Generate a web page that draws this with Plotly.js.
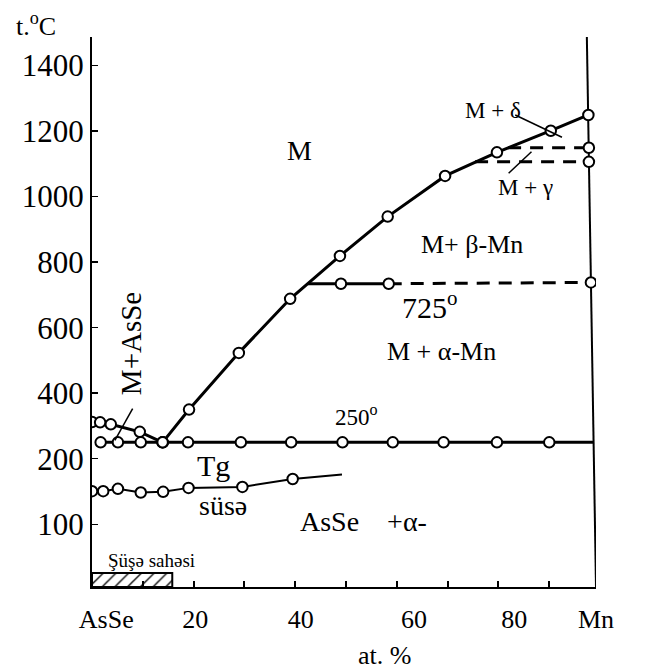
<!DOCTYPE html>
<html>
<head>
<meta charset="utf-8">
<script src="https://cdn.plot.ly/plotly-3.0.1.min.js"></script>
<style>html,body{margin:0;padding:0;background:#fff;}#chart{width:664px;height:669px;}</style>
</head>
<body>
<div id="chart"></div>
<script>
// ---- data (at.% Mn, temperature °C) ----
const liquidusX = [13.9, 19.1, 28.9, 39.0, 48.8, 58.2, 69.5, 79.7, 90.3, 97.7];
const liquidusY = [250, 350, 523, 688, 819, 939, 1063, 1135, 1201, 1249];

const asseLiqX = [0, 1.6, 3.7, 9.4, 13.9];
const asseLiqY = [312, 311, 305, 282, 250];

const eutX = [1.7, 5.1, 9.6, 13.9, 18.9, 29.3, 39.2, 49.3, 59.2, 69.2, 79.7, 90.0, 98.7];
const eutY = [250, 250, 250, 250, 250, 250, 250, 250, 250, 250, 250, 250, 250];

const t725SolidX = [42.5, 49.0, 58.4];
const t725SolidY = [734, 734, 734];
const t725DashX = [58.4, 98.2];
const t725DashY = [734, 738];

const t1140X = [81.9, 97.8];
const t1140Y = [1149, 1149];
const t1100X = [75.4, 97.8];
const t1100Y = [1106, 1106];

const tgX = [0, 2.2, 5.1, 9.6, 14.0, 19.0, 29.6, 39.5, 49.2];
const tgY = [101, 101, 108, 97, 99, 111, 114, 138, 152];

const glassX = [0, 15.8, 15.8, 0, 0];
const glassY = [-191.5, -191.5, -148.7, -148.7, -191.5];

const yTickVals = [0, 200, 400, 600, 800, 1000, 1200, 1400];
const yTickText = ['100', '200', '400', '600', '800', '1000', '1200', '1400'];
const xMinorTicks = [10, 20, 30, 40, 50, 60, 70, 80, 90];
const xLabelPos = [2.8, 20.3, 41.1, 63.4, 83.1, 99.2];
const xLabelText = ['AsSe', '20', '40', '60', '80', 'Mn'];

const XR = [0, 99.2];
const YR = [-191.5, 1487];

const FONT = '"Liberation Serif", Tinos, "Times New Roman", Times, serif';
const mk = {symbol: 'circle', size: 10.5, color: 'white', opacity: 1, line: {color: 'black', width: 2}};
function sizes(n, skip) { const a = []; for (let i = 0; i < n; i++) a.push(skip.indexOf(i) >= 0 ? 0 : 10.5); return a; }

const traces = [
  {x: glassX, y: glassY, mode: 'lines', fill: 'toself', fillcolor: 'white',
   fillpattern: {shape: '/', fgcolor: 'black', bgcolor: 'white', size: 9, solidity: 0.15},
   line: {color: 'black', width: 2}, hoverinfo: 'skip'},
  {x: tgX, y: tgY, mode: 'lines+markers', line: {color: 'black', width: 2},
   marker: Object.assign({}, mk, {size: sizes(tgX.length, [tgX.length - 1])})},
  {x: eutX, y: eutY, mode: 'lines+markers', line: {color: 'black', width: 3},
   marker: Object.assign({}, mk, {size: sizes(eutX.length, [eutX.length - 1])})},
  {x: asseLiqX, y: asseLiqY, mode: 'lines+markers', line: {color: 'black', width: 3}, marker: mk},
  {x: t725DashX, y: t725DashY, mode: 'lines+markers', line: {color: 'black', width: 3, dash: '13px,9px'},
   marker: Object.assign({}, mk, {size: [0, 10.5]})},
  {x: t725SolidX, y: t725SolidY, mode: 'lines+markers', line: {color: 'black', width: 3},
   marker: Object.assign({}, mk, {size: [0, 10.5, 10.5]})},
  {x: t1140X, y: t1140Y, mode: 'lines+markers', line: {color: 'black', width: 3, dash: '13px,9px'},
   marker: Object.assign({}, mk, {size: [0, 10.5]})},
  {x: t1100X, y: t1100Y, mode: 'lines+markers', line: {color: 'black', width: 3, dash: '13px,9px'},
   marker: Object.assign({}, mk, {size: [0, 10.5]})},
  {x: liquidusX, y: liquidusY, mode: 'lines+markers', line: {color: 'black', width: 3}, marker: mk},
  {x: [null], y: [null], xaxis: 'x2', mode: 'markers', showlegend: false, hoverinfo: 'skip'}
];

function ann(text, x, y, size, extra) {
  return Object.assign({text: text, x: x, y: y, xref: 'x', yref: 'y', showarrow: false,
    xanchor: 'center', yanchor: 'middle',
    font: {family: FONT, size: size, color: 'black'}}, extra || {});
}

const annotations = [
  ann('M', 40.9, 1142, 28),
  ann('M + δ', 78.9, 1262, 23),
  ann('M + γ', 85.4, 1028, 23),
  ann('1246<sup>o</sup>', 100.0, 1255, 23, {xanchor: 'left'}),
  ann('1140<sup>o</sup>', 101.1, 1152, 23, {xanchor: 'left'}),
  ann('1100<sup>o</sup>', 100.2, 1104, 23, {xanchor: 'left'}),
  ann('M+ β-Mn', 74.7, 855, 26),
  ann('725<sup>o</sup>', 66.5, 669, 30),
  ann('727<sup>o</sup>', 101.0, 730, 23, {xanchor: 'left'}),
  ann('M + α-Mn', 68.8, 528, 26),
  ann('250<sup>o</sup>', 52.1, 333, 23),
  ann('Tg', 23.9, 180, 30),
  ann('süsə', 25.8, 58, 28),
  ann('AsSe&nbsp;&nbsp;&nbsp;&nbsp;+α-', 40.6, 9, 28, {xanchor: 'left'}),
  ann('M+AsSe', 7.7, 550, 29, {textangle: -90}),
  ann('Şüşə sahəsi', 11.8, -110, 19),
  {text: 't.<sup>o</sup>C', xref: 'paper', yref: 'paper', x: -0.111, y: 1.022, showarrow: false,
   xanchor: 'center', yanchor: 'middle', font: {family: FONT, size: 26, color: 'black'}},
  {text: 'at. %', xref: 'paper', yref: 'paper', x: 0.58, y: -0.125, showarrow: false,
   xanchor: 'center', yanchor: 'middle', font: {family: FONT, size: 26, color: 'black'}}
];

const shapes = [
  {type: 'line', xref: 'x', yref: 'y', x0: 97.4, y0: YR[1], x1: 99.2, y1: YR[0], layer: 'below',
   line: {color: 'black', width: 2}},
  {type: 'line', xref: 'x', yref: 'y', x0: 83.3, y0: 1249, x1: 92.5, y1: 1181, line: {color: 'black', width: 1.5}},
  {type: 'line', xref: 'x', yref: 'y', x0: 82.0, y0: 1071, x1: 86.5, y1: 1137, line: {color: 'black', width: 1.5}},
  {type: 'line', xref: 'x', yref: 'y', x0: 8.0, y0: 353, x1: 4.5, y1: 256, line: {color: 'black', width: 1.5}}
];

const layout = {
  width: 664, height: 669,
  margin: {l: 92, r: 68, t: 37, b: 82},
  paper_bgcolor: 'white', plot_bgcolor: 'white',
  showlegend: false,
  font: {family: FONT, color: 'black'},
  xaxis: {range: XR, showline: true, linecolor: 'black', linewidth: 2, ticks: 'inside',
    tickvals: xMinorTicks, ticklen: 6, tickwidth: 2, tickcolor: 'black', showticklabels: false,
    showgrid: false, zeroline: false, fixedrange: true},
  xaxis2: {overlaying: 'x', anchor: 'y', side: 'bottom', range: XR, showline: false, ticks: '',
    tickvals: xLabelPos, ticktext: xLabelText, showgrid: false, zeroline: false,
    tickfont: {family: FONT, size: 26, color: 'black'}, ticklabelstandoff: 14},
  yaxis: {range: YR, showline: true, linecolor: 'black', linewidth: 2, ticks: 'inside',
    tickvals: yTickVals, ticktext: yTickText, ticklen: 6, tickwidth: 1.5, tickcolor: 'black',
    tickfont: {family: FONT, size: 31, color: 'black'}, showgrid: false, zeroline: false, fixedrange: true},
  annotations: annotations,
  shapes: shapes
};

Plotly.newPlot('chart', traces, layout, {displayModeBar: false, staticPlot: true});
</script>
</body>
</html>
